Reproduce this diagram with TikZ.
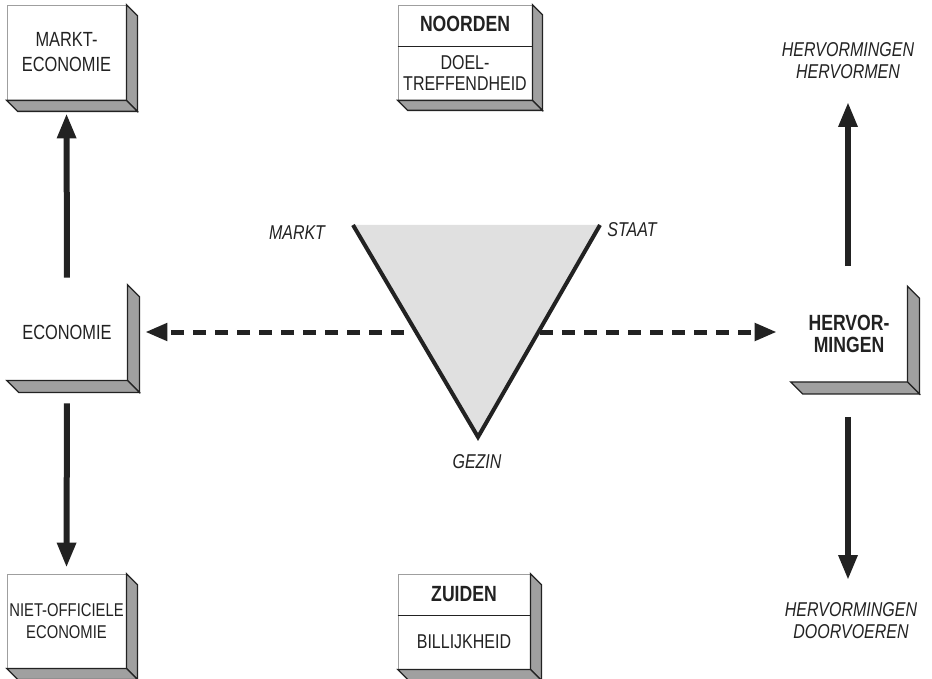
\documentclass[tikz,border=0pt]{standalone}
\usepackage{fontspec}
\setmainfont[FakeStretch=0.8]{Liberation Sans}
\usetikzlibrary{arrows.meta}
\definecolor{ink}{HTML}{222222}
\definecolor{sidegray}{HTML}{A0A0A0}
\definecolor{trigray}{HTML}{E0E0E0}
\newcommand\extrudebox[2]{%
  \filldraw[side] (#1.north east) -- ++(#2,#2) -- ([shift={(#2,#2)}]#1.south east) -- (#1.south east) -- cycle;
  \filldraw[side] (#1.south west) -- (#1.south east) -- ([shift={(#2,#2)}]#1.south east) -- ([shift={(#2,#2)}]#1.south west) -- cycle;
}
\tikzset{
  face/.style={rectangle, draw=gray!75, line width=0.8pt, fill=white, inner sep=0pt, text=ink, align=center, font=\fontsize{20.5}{23}\selectfont},
  plainface/.style={face, draw=none},
  side/.style={fill=sidegray, draw=ink, line width=1.3pt, line join=miter},
  txt/.style={font=\fontsize{20}{21}\selectfont, text=ink, align=center, inner sep=0pt},
  btxt/.style={txt, font=\fontsize{22}{22}\selectfont\bfseries},
  itxt/.style={txt, font=\fontsize{20}{22}\selectfont\itshape},
  bigarrow/.style={draw=ink, line width=6pt, -{Triangle[width=18pt,length=25pt]}},
  dasharrow/.style={draw=ink, line width=5pt, dash pattern=on 13pt off 9pt, -{Triangle[width=17pt,length=22pt]}},
  divider/.style={draw=ink, line width=1pt}
}
\begin{document}
\begin{tikzpicture}[x=1pt, y=-1pt]
\useasboundingbox (0,0) rectangle (932,679);

% left column boxes
\node[face, minimum width=119pt, minimum height=95pt, font=\fontsize{20.5}{25}\selectfont] (me) at (66.5,52.5) {MARKT-\\ECONOMIE};
\extrudebox{me}{11}
\node[plainface, minimum width=120pt, minimum height=95pt] (eco) at (67,332.5) {ECONOMIE};
\extrudebox{eco}{12}
\node[face, minimum width=119pt, minimum height=94pt, font=\fontsize{18.5}{22}\selectfont] (neo) at (66.5,621) {NIET-OFFICIELE\\ECONOMIE};
\extrudebox{neo}{11}

% middle boxes
\node[face, minimum width=134pt, minimum height=95pt] (noord) at (465,52.5) {};
\extrudebox{noord}{10}
\path (noord.north west) ++(0,42) coordinate (nd);
\draw[divider] (nd) -- (nd -| noord.east);
\node[btxt] (noordT) at (465,24) {NOORDEN};
\node[txt] (noordB) at (465,73) {DOEL-\\TREFFENDHEID};

\node[face, minimum width=132pt, minimum height=95pt] (zuid) at (464,621.5) {};
\extrudebox{zuid}{11}
\path (zuid.north west) ++(0,42) coordinate (zd);
\draw[divider] (zd) -- (zd -| zuid.east);
\node[btxt] (zuidT) at (464,594) {ZUIDEN};
\node[txt] (zuidB) at (464,642) {BILLIJKHEID};

% right box
\node[plainface, minimum width=116pt, minimum height=95pt, font=\fontsize{22}{22}\selectfont\bfseries] (herv) at (849,334) {HERVOR-\\MINGEN};
\extrudebox{herv}{12}

% right labels
\node[itxt] (hvtop) at (848,61) {HERVORMINGEN\\HERVORMEN};
\node[itxt] (hvbot) at (851,621) {HERVORMINGEN\\DOORVOEREN};
\coordinate (uptip) at (848,102);
\coordinate (dntip) at (848,580);

% triangle
\coordinate (tl) at (353,225);
\coordinate (tr) at (600,225);
\coordinate (tb) at (478,437);
\fill[trigray] (tl) -- (tr) -- (tb) -- cycle;
\draw[ink, line width=4pt] (tl) -- (tb) -- (tr);
\node[itxt] (markt) at (297,233) {MARKT};
\node[itxt] (staat) at (632,230) {STAAT};
\node[itxt] (gezin) at (477,462) {GEZIN};

% solid arrows
\draw[bigarrow, shorten <=7pt, shorten >=13pt] (eco.north) -- (me.south);
\draw[bigarrow, shorten <=23pt, shorten >=6pt] (eco.south) -- (neo.north);
\draw[bigarrow, shorten <=20pt] (herv.north -| uptip) -- (uptip);
\draw[bigarrow, shorten <=35pt] (herv.south -| dntip) -- (dntip);

% dashed arrows
\coordinate (dl) at (404,332);
\coordinate (dr) at (540,332);
\draw[dasharrow, shorten >=18pt] (dl) -- (eco.east |- dl);
\draw[dasharrow, shorten >=14pt] (dr) -- (herv.west |- dr);
\end{tikzpicture}
\end{document}
